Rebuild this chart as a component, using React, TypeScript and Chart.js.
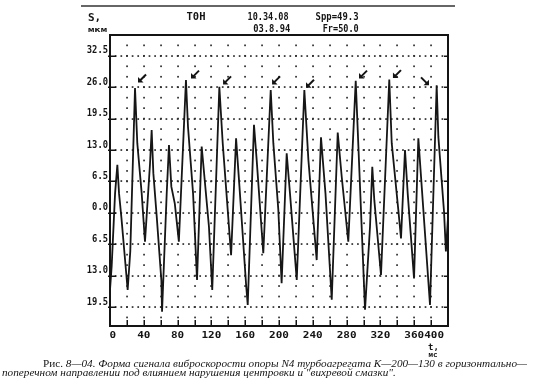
import React, { useEffect, useRef } from 'react';
import { Chart, registerables } from 'chart.js';

Chart.register(...registerables);

// ---- data ----
const timeMs = [
  0, 2, 6, 8.7, 10.7, 13.5, 20.9, 24, 29.6, 32.3, 37.5, 41.4, 47.3, 49.3, 51.3, 55.3, 60.8, 61.6,
  67.1, 69.8, 72.6, 76.7, 81.5, 89.9, 92.3, 98.3, 103, 108.5, 117.1, 121, 129.4, 133.4, 139.3,
  143.3, 149.2, 153.2, 161.1, 163, 170.4, 173.6, 181.4, 190.2, 193.3, 199.2, 203.1, 209.1, 213,
  221, 230, 234.8, 244.6, 249.7, 255, 262.4, 269.5, 274.2, 282, 290.8, 293.8, 301.8, 307.7,
  310.4, 312.8, 320.7, 330.5, 333.4, 341.2, 344.4, 349.1, 352.3, 359.8, 364.9, 368.9, 378.7,
  386.6, 388.6, 395.3, 397.5, 400,
];
const displacement = [
  -16, -11, 4, 9.9, 4, -1, -16, -8, 25.8, 14.4, 4, -6, 10, 17.1, 8.2, -0.8, -14, -20.5,
  4, 14, 5.4, 1.9, -6, 27.5, 17.8, 4, -13.9, 13.7, -2.9, -16, 26.1, 14.4, 0.6,
  -8.8, 15.4, 5.4, -15, -19.1, 18.2, 10.9, -8.4, 25.4, 14.4, 0.6, -14.6, 12.3, 4,
  -13.9, 25.4, 10.9, -9.8, 15.6, 4, -18, 16.6, 7.5, -6, 27.3, 14.4, -20.1, -2.9,
  9.5, 2.6, -12.9, 27.6, 14.4, 0.6, -5.3, 13, 4, -13.6, 15.4, 5.4, -19.1,
  26.4, 15.7, 0.2, -8, -1,
];

const xTickLabels = [0, 40, 80, 120, 160, 200, 240, 280, 320, 360, 400];
const xGridStep = 20;
const yTickValues = [32.5, 26.0, 19.5, 13.0, 6.5, 0.0, -6.5, -13.0, -19.5];
const yMin = -23.45;
const yMax = 36.8;

// arrows marking the "whirl" peaks (centre in data units)
const arrowTime = [37.9, 100.6, 138.5, 196.5, 236.7, 299.4, 339.6, 372.8];
const arrowValue = [27.8, 28.6, 27.4, 27.4, 26.7, 28.6, 28.7, 27.2];
const arrowDir = ['sw', 'sw', 'sw', 'sw', 'sw', 'sw', 'sw', 'se'];

const headerTop = ['T0H', '10.34.08', 'Spp=49.3'];
const headerBottom = ['', '03.8.94', 'Fr=50.0'];
const yAxisLabel = ['S,', 'мкм'];
const xAxisLabel = ['t,', 'мс'];
const captionLead = 'Рис. ';
const captionLine1 = '8—04. Форма сигнала виброскорости опоры N4 турбоагрегата К—200—130 в горизонтально—';
const captionLine2 = 'поперечном направлении под влиянием нарушения центровки и "вихревой смазки".';

const MONO = '"DejaVu Sans Mono", "Liberation Mono", monospace';
const SERIF = '"Liberation Serif", "DejaVu Serif", serif';
const INK = '#141414';

function drawText(
  ctx: CanvasRenderingContext2D,
  s: string,
  x: number,
  y: number,
  font: string,
  align: CanvasTextAlign = 'center',
  targetWidth = 0,
  sy = 1,
) {
  ctx.save();
  ctx.font = font;
  ctx.textAlign = align;
  ctx.textBaseline = 'middle';
  ctx.fillStyle = INK;
  let sx = 1;
  if (targetWidth > 0) {
    const w = ctx.measureText(s).width;
    if (w > 0) sx = targetWidth / w;
  }
  ctx.translate(x, y);
  ctx.scale(sx, sy);
  ctx.fillText(s, 0, 0);
  ctx.restore();
}

const scopePlugin = {
  id: 'scopeDecor',
  beforeDatasetsDraw(chart: any) {
    const { ctx, chartArea: a, scales } = chart;
    const xs = scales.x;
    const ys = scales.y;
    ctx.save();
    ctx.fillStyle = '#2e2e2e';
    // vertical dotted grid lines every 20 ms
    for (let t = xGridStep; t < 400; t += xGridStep) {
      const px = Math.round(xs.getPixelForValue(t));
      for (let k = -40; k < 40; k++) {
        const v = 6.5 * k / 3;
        const py = ys.getPixelForValue(v);
        if (py < a.top + 2 || py > a.bottom - 2) continue;
        ctx.fillRect(px - 0.8, py - 0.8, 1.7, 1.7);
      }
    }
    // horizontal dotted grid lines at the ticks
    yTickValues.forEach((v) => {
      const py = Math.round(ys.getPixelForValue(v));
      for (let k = 0; k <= 60; k++) {
        const t = (xGridStep * k) / 3;
        const px = xs.getPixelForValue(t);
        if (px < a.left + 2 || px > a.right - 2) continue;
        ctx.fillRect(px - 0.8, py - 0.8, 1.7, 1.7);
      }
    });
    ctx.restore();
  },
  afterDatasetsDraw(chart: any) {
    const { ctx, chartArea: a, scales } = chart;
    const xs = scales.x;
    const ys = scales.y;
    ctx.save();
    ctx.strokeStyle = INK;
    // frame
    ctx.lineWidth = 2;
    ctx.strokeRect(a.left, a.top, a.right - a.left, a.bottom - a.top);
    // bottom ticks
    ctx.lineWidth = 1.5;
    for (let t = xGridStep; t < 400; t += xGridStep) {
      const px = Math.round(xs.getPixelForValue(t)) + 0.25;
      ctx.beginPath();
      ctx.moveTo(px, a.bottom);
      ctx.lineTo(px, a.bottom - 6);
      ctx.stroke();
    }
    // left & right y ticks
    yTickValues.forEach((v) => {
      const py = Math.round(ys.getPixelForValue(v)) + 0.25;
      ctx.beginPath();
      ctx.moveTo(a.left - 2, py);
      ctx.lineTo(a.left + 6, py);
      ctx.moveTo(a.right - 4, py);
      ctx.lineTo(a.right + 1, py);
      ctx.stroke();
    });
    // arrows
    ctx.fillStyle = INK;
    ctx.lineWidth = 2;
    arrowTime.forEach((t, i) => {
      const cx = xs.getPixelForValue(t);
      const cy = ys.getPixelForValue(arrowValue[i]);
      const d = arrowDir[i] === 'se' ? 1 : -1;
      const tipX = cx + 4 * d;
      const tipY = cy + 4;
      ctx.beginPath();
      ctx.moveTo(cx - 4 * d, cy - 4);
      ctx.lineTo(tipX - 1.5 * d, tipY - 1.5);
      ctx.stroke();
      ctx.beginPath();
      ctx.moveTo(tipX, tipY);
      ctx.lineTo(tipX, tipY - 5.5);
      ctx.lineTo(tipX - 5.5 * d, tipY);
      ctx.closePath();
      ctx.fill();
    });
    ctx.restore();
  },
  afterDraw(chart: any) {
    const { ctx, chartArea: a, scales } = chart;
    const xs = scales.x;
    const ys = scales.y;
    // top rule
    ctx.save();
    ctx.strokeStyle = '#333';
    ctx.lineWidth = 1.5;
    ctx.beginPath();
    ctx.moveTo(81, 6);
    ctx.lineTo(455, 6);
    ctx.stroke();
    ctx.restore();

    // y tick labels (magnitude only, as on the scope)
    yTickValues.forEach((v) => {
      const py = ys.getPixelForValue(v);
      const s = Math.abs(v).toFixed(1);
      drawText(ctx, s, a.left - 2, py - 5, `bold 10px ${MONO}`, 'right', s.length * 5.3);
    });
    // x tick labels
    ctx.save();
    ctx.font = `bold 11px ${MONO}`;
    xTickLabels.forEach((t) => {
      const s = String(t);
      const w = ctx.measureText(s).width;
      let cx = xs.getPixelForValue(t);
      cx = Math.max(cx, a.left + w / 2 - 0.5);
      cx = Math.min(cx, a.right - w / 2 - 4);
      drawText(ctx, s, cx, a.bottom + 10, `bold 11px ${MONO}`, 'center', 0, 0.85);
    });
    ctx.restore();

    // axis unit labels
    drawText(ctx, yAxisLabel[0], 94.5, 18, `bold 11px ${MONO}`, 'center', 0, 0.9);
    drawText(ctx, yAxisLabel[1], 97.5, 30, `bold 9px ${MONO}`, 'center', 19, 0.85);
    drawText(ctx, xAxisLabel[0], 433.5, 348, `bold 9px ${MONO}`, 'center', 0, 0.9);
    drawText(ctx, xAxisLabel[1], 433, 355.5, `bold 8px ${MONO}`, 'center', 9, 0.85);

    // header
    const hx = [196, 268, 337];
    const hw = [19, 41, 43];
    const hx2 = [0, 271.7, 340.7];
    const hw2 = [0, 37, 36];
    headerTop.forEach((s, i) => drawText(ctx, s, hx[i], 17, `bold 11px ${MONO}`, 'center', hw[i], 0.9));
    headerBottom.forEach((s, i) => {
      if (s) drawText(ctx, s, hx2[i], 29.5, `bold 11px ${MONO}`, 'center', hw2[i], 0.9);
    });

    // caption
    ctx.save();
    ctx.fillStyle = INK;
    ctx.textBaseline = 'alphabetic';
    const f1 = `11px ${SERIF}`;
    const f2 = `italic 11px ${SERIF}`;
    ctx.font = f1;
    const wLead = ctx.measureText(captionLead).width;
    ctx.font = f2;
    const w1 = ctx.measureText(captionLine1).width;
    const sx = (527 - 43) / (wLead + w1);
    ctx.save();
    ctx.translate(43, 367);
    ctx.scale(sx, 1);
    ctx.font = f1;
    ctx.fillText(captionLead, 0, 0);
    ctx.font = f2;
    ctx.fillText(captionLine1, wLead, 0);
    ctx.restore();
    ctx.save();
    ctx.translate(2, 376);
    ctx.scale(sx, 1);
    ctx.font = f2;
    ctx.fillText(captionLine2, 0, 0);
    ctx.restore();
    ctx.restore();
  },
};

export default function App() {
  const ref = useRef<HTMLCanvasElement | null>(null);
  useEffect(() => {
    const canvas = ref.current;
    if (!canvas) return;
    const chart = new Chart(canvas, {
      type: 'line',
      data: {
        datasets: [
          {
            data: timeMs.map((t, i) => ({ x: t, y: displacement[i] })),
            borderColor: '#161616',
            borderWidth: 1.8,
            pointRadius: 0,
            tension: 0,
            fill: false,
          },
        ],
      },
      options: {
        animation: false,
        responsive: false,
        events: [],
        layout: { padding: { left: 110, top: 35, right: 92, bottom: 66 } },
        plugins: { legend: { display: false }, tooltip: { enabled: false } },
        scales: {
          x: { type: 'linear', min: 0, max: 400, display: false },
          y: { type: 'linear', min: yMin, max: yMax, display: false },
        },
      },
      plugins: [scopePlugin],
    });
    return () => chart.destroy();
  }, []);
  return (
    <div style={{ position: 'absolute', left: 0, top: 0, width: 540, height: 392, background: '#fff' }}>
      <canvas ref={ref} width={540} height={392} style={{ display: 'block' }} />
    </div>
  );
}
